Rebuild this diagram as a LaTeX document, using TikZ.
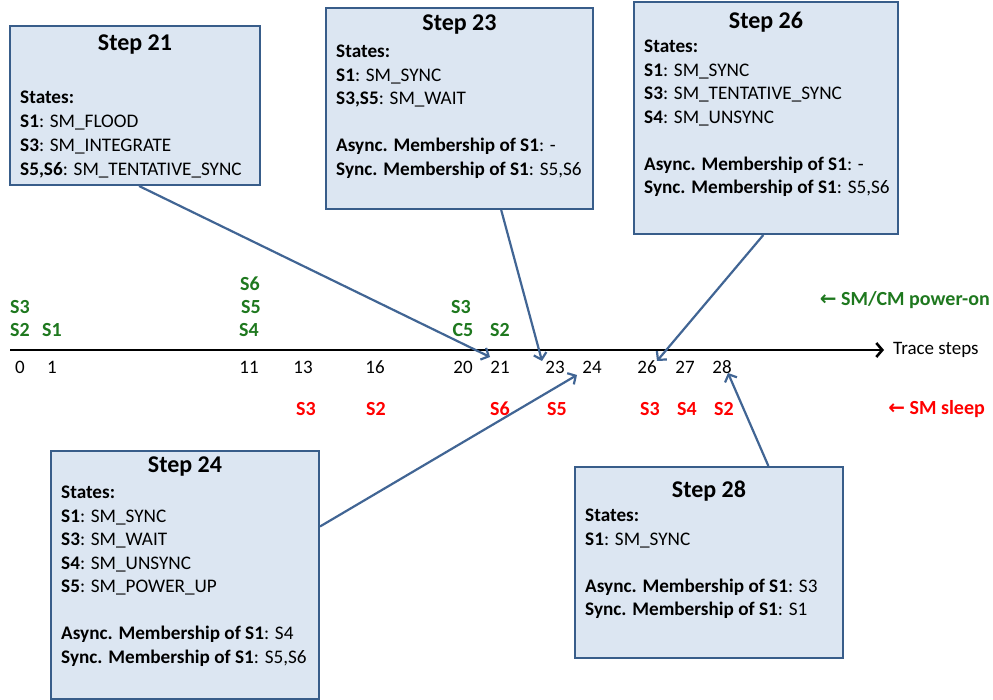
\documentclass[tikz,border=0pt]{standalone}
\usepackage{fontspec}
\setmainfont{Carlito}
\newfontfamily\djv{DejaVu Sans}
\usetikzlibrary{arrows.meta,calc}
\definecolor{boxfill}{RGB}{220,230,242}
\definecolor{boxline}{RGB}{56,93,138}
\definecolor{conn}{RGB}{65,101,148}
\definecolor{grn}{RGB}{30,120,30}
\definecolor{rd}{RGB}{255,0,0}
\begin{document}
\begin{tikzpicture}[x=1pt,y=-1pt,
  box/.style={draw=boxline,line width=2pt,fill=boxfill,anchor=north west,inner sep=0pt},
  title/.style={font=\fontsize{24}{28}\selectfont\bfseries,inner sep=0pt},
  body/.style={font=\fontsize{19.2}{23.5}\selectfont,align=left,anchor=north west,inner sep=0pt},
  tick/.style={font=\fontsize{19}{22}\selectfont,inner sep=0pt},
  gl/.style={font=\fontsize{20}{22}\selectfont\bfseries,text=grn,inner sep=0pt},
  rl/.style={font=\fontsize{20}{22}\selectfont\bfseries,text=rd,inner sep=0pt},
  connector/.style={draw=conn,line width=2.2pt,-{Straight Barb[length=6pt,width=13pt,line width=2.2pt]}},
  axisline/.style={draw=black,line width=2.6pt,-{Straight Barb[length=6pt,width=14pt,line width=2.6pt]}}]
\path[use as bounding box] (0,0) rectangle (993,700);

% axis
\coordinate (a0) at (10,350);
\coordinate (a1) at (884,350);
\draw[axisline] (a0) -- (a1);
\node[tick,anchor=west] (ts) at (893,350) {Trace steps};

% tick labels
\node[tick] (t0) at (20,367) {0};
\node[tick] (t1) at (52,367) {1};
\node[tick] (t11) at (249,367) {11};
\node[tick] (t13) at (303,367) {13};
\node[tick] (t16) at (375,367) {16};
\node[tick] (t20) at (463,367) {20};
\node[tick] (t21) at (500,367) {21};
\node[tick] (t23) at (555,367) {23};
\node[tick] (t24) at (592,367) {24};
\node[tick] (t26) at (647,367) {26};
\node[tick] (t27) at (685,367) {27};
\node[tick] (t28) at (722,367) {28};

% green labels
\node[gl] (g0a) at (20,330) {S2};
\node[gl] (g0b) at (20,307) {S3};
\node[gl] (g1) at (52,330) {S1};
\node[gl] (g11a) at (249,330) {S4};
\node[gl] (g11b) at (251,307) {S5};
\node[gl] (g11c) at (250,284) {S6};
\node[gl] (g20a) at (463,330) {C5};
\node[gl] (g20b) at (461,307) {S3};
\node[gl] (g21) at (500,330) {S2};
\node[gl,anchor=east] (pwr) at (990,300) {{\djv\bfseries ←} SM/CM power-on};

% red labels
\node[rl] (r13) at (306,409) {S3};
\node[rl] (r16) at (376,409) {S2};
\node[rl] (r21) at (500,409) {S6};
\node[rl] (r23) at (557,409) {S5};
\node[rl] (r26) at (650,409) {S3};
\node[rl] (r27) at (687,409) {S4};
\node[rl] (r28) at (724,409) {S2};
\node[rl,anchor=east] (slp) at (985,409) {{\djv\bfseries ←} SM sleep};

% boxes
\node[box,minimum width=250pt,minimum height=159pt] (s21) at (9,25) {};
\node[box,minimum width=267pt,minimum height=201pt] (s23) at (325,7) {};
\node[box,minimum width=264pt,minimum height=232pt] (s26) at (633,1) {};
\node[box,minimum width=268pt,minimum height=248pt] (s24) at (50,450) {};
\node[box,minimum width=268pt,minimum height=191pt] (s28) at (574,466) {};

\node[title] (h21) at ($(s21.north)+(0,20)$) {Step 21};
\node[title] (h23) at ($(s23.north)+(0,18)$) {Step 23};
\node[title] (h26) at ($(s26.north)+(0,21)$) {Step 26};
\node[title] (h24) at ($(s24.north)+(0,17)$) {Step 24};
\node[title] (h28) at ($(s28.north)+(0,25)$) {Step 28};

\node[body,font=\fontsize{19.2}{24}\selectfont] (b21) at ($(s21.north west)+(11,66)$) {\textbf{States:}\\
\textbf{S1}: SM\_FLOOD\\
\textbf{S3}: SM\_INTEGRATE\\
\textbf{S5,S6}: SM\_TENTATIVE\_SYNC};

\node[body] (b23) at ($(s23.north west)+(11,38)$) {\textbf{States:}\\
\textbf{S1}: SM\_SYNC\\
\textbf{S3,S5}: SM\_WAIT\\[23.5pt]
\textbf{Async. Membership of S1}: -\\
\textbf{Sync. Membership of S1}: S5,S6};

\node[body] (b26) at ($(s26.north west)+(11,39)$) {\textbf{States:}\\
\textbf{S1}: SM\_SYNC\\
\textbf{S3}: SM\_TENTATIVE\_SYNC\\
\textbf{S4}: SM\_UNSYNC\\[23.5pt]
\textbf{Async. Membership of S1}: -\\
\textbf{Sync. Membership of S1}: S5,S6};

\node[body] (b24) at ($(s24.north west)+(11,36)$) {\textbf{States:}\\
\textbf{S1}: SM\_SYNC\\
\textbf{S3}: SM\_WAIT\\
\textbf{S4}: SM\_UNSYNC\\
\textbf{S5}: SM\_POWER\_UP\\[23.5pt]
\textbf{Async. Membership of S1}: S4\\
\textbf{Sync. Membership of S1}: S5,S6};

\node[body] (b28) at ($(s28.north west)+(11,43)$) {\textbf{States:}\\
\textbf{S1}: SM\_SYNC\\[23.5pt]
\textbf{Async. Membership of S1}: S3\\
\textbf{Sync. Membership of S1}: S1};

% connector tips
\coordinate (p21) at (490,357);
\coordinate (p23) at (542,361);
\coordinate (p26) at (657,361);
\coordinate (p24) at (577,375);
\coordinate (p28) at (728,373);

\draw[connector] ($(s21.south west)!0.516!(s21.south east)$) -- (p21);
\draw[connector] ($(s23.south west)!0.655!(s23.south east)$) -- (p23);
\draw[connector] ($(s26.south west)!0.49!(s26.south east)$) -- (p26);
\draw[connector] ($(s24.north east)!0.306!(s24.south east)$) -- (p24);
\draw[connector] ($(s28.north west)!0.72!(s28.north east)$) -- (p28);
\end{tikzpicture}
\end{document}
